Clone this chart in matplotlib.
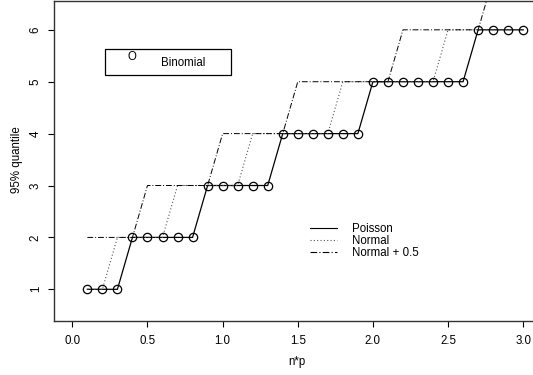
import numpy as np
import matplotlib
matplotlib.use("Agg")
import matplotlib.pyplot as plt
from matplotlib.patches import Rectangle

plt.rcParams['font.family'] = ['Liberation Sans', 'DejaVu Sans']

# n*p values and 95% quantiles
np_vals = [0.1, 0.2, 0.3, 0.4, 0.5, 0.6, 0.7, 0.8, 0.9, 1.0,
           1.1, 1.2, 1.3, 1.4, 1.5, 1.6, 1.7, 1.8, 1.9, 2.0,
           2.1, 2.2, 2.3, 2.4, 2.5, 2.6, 2.7, 2.8, 2.9, 3.0]
binomial = [1, 1, 1, 2, 2, 2, 2, 2, 3, 3,
            3, 3, 3, 4, 4, 4, 4, 4, 4, 5,
            5, 5, 5, 5, 5, 5, 6, 6, 6, 6]
poisson = [1, 1, 1, 2, 2, 2, 2, 2, 3, 3,
           3, 3, 3, 4, 4, 4, 4, 4, 4, 5,
           5, 5, 5, 5, 5, 5, 6, 6, 6, 6]
normal = [1, 1, 2, 2, 2, 2, 3, 3, 3, 3,
          3, 4, 4, 4, 4, 4, 4, 5, 5, 5,
          5, 5, 5, 5, 6, 6, 6, 6, 6, 6]
normal_half = [2, 2, 2, 2, 3, 3, 3, 3, 3, 4,
               4, 4, 4, 4, 5, 5, 5, 5, 5, 5,
               5, 6, 6, 6, 6, 6, 6, 7, 7, 7]

W, H = 533, 375
fig = plt.figure(figsize=(W / 100, H / 100), dpi=100)
# axes box in pixels: left 54, bottom 321 (from top), top 0.5, right beyond the image
ax = fig.add_axes([54.3 / W, (H - 320.7) / H, (545 - 54.3) / W, (320.7 - 0.5) / H])

ax.plot(np_vals, poisson, color='black', lw=0.9, ls='-')
ax.plot(np_vals, normal, color='#555555', lw=0.8, ls=(0, (1, 2)))
ax.plot(np_vals, normal_half, color='black', lw=0.7, ls=(0, (6, 2, 1, 2)))
ax.plot(np_vals, binomial, ls='none', marker='o', ms=6.0, mfc='none',
        mec='black', mew=0.9)

ax.set_xlim(-0.12, (545 - 72.3) / 150.3)
ax.set_ylim(0.395, 6.565)
ax.set_xticks([0.0, 0.5, 1.0, 1.5, 2.0, 2.5, 3.0])
ax.set_xticklabels(['0.0', '0.5', '1.0', '1.5', '2.0', '2.5', '3.0'])
ax.set_yticks([1, 2, 3, 4, 5, 6])
ax.set_yticklabels(['1', '2', '3', '4', '5', '6'], rotation=90, va='center')
ax.tick_params(direction='out', length=4.5, width=0.8, labelsize=8.3, colors='black')
ax.tick_params(axis='x', pad=5.5)
ax.tick_params(axis='y', pad=4.5)
for s in ax.spines.values():
    s.set_linewidth(1.0)
    s.set_color('#333333')

# labels
fig.text(297 / W, 1 - 362 / H, 'n*p', ha='center', va='center', fontsize=8.3)
fig.text(17 / W, 1 - 160 / H, '95% quantile', ha='center', va='center',
         rotation=90, fontsize=8.3)

# boxed legend for Binomial
fig.patches.append(Rectangle((105 / W, 1 - 75 / H), 126 / W, 26 / H,
                             transform=fig.transFigure, fill=False,
                             edgecolor='black', lw=0.9))
fig.text(132 / W, 1 - 57 / H, 'O', ha='center', va='center', fontsize=8.3)
fig.text(161 / W, 1 - 63 / H, 'Binomial', ha='left', va='center', fontsize=8.3)

# line legend without box
leg_rows = [(228, '-', 'black', 'Poisson'),
            (240, (0, (1, 2)), '#555555', 'Normal'),
            (252, (0, (6, 2, 1, 2)), 'black', 'Normal + 0.5')]
for y, ls, c, lab in leg_rows:
    fig.add_artist(plt.Line2D([310 / W, 337 / W], [1 - y / H, 1 - y / H],
                              transform=fig.transFigure, color=c, ls=ls, lw=0.8))
    fig.text(352 / W, 1 - (y + 1) / H, lab, ha='left', va='center', fontsize=8.3)

fig.savefig('out.png', dpi=100)
